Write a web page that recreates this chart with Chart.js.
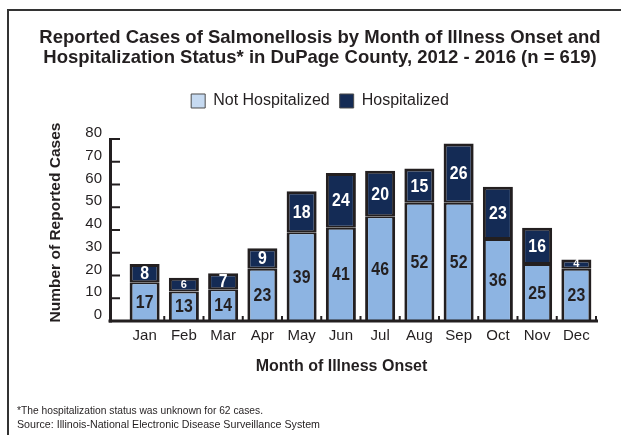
<!DOCTYPE html>
<html>
<head>
<meta charset="utf-8">
<script src="https://cdn.jsdelivr.net/npm/chart.js@4.4.0/dist/chart.umd.min.js"></script>
<style>
html,body{margin:0;padding:0;overflow:hidden;background:#fff;width:621px;height:435px}
#wrap{position:absolute;left:0;top:0;width:640px;height:435px}
canvas{display:block}
</style>
</head>
<body>
<div id="wrap"><canvas id="c" width="640" height="435"></canvas></div>
<script>
// ---- data ----
const months = ['Jan','Feb','Mar','Apr','May','Jun','Jul','Aug','Sep','Oct','Nov','Dec'];
const notHospitalized = [17,13,14,23,39,41,46,52,52,36,25,23];
const hospitalized    = [8,6,7,9,18,24,20,15,26,23,16,4];
const yTicks = [0,10,20,30,40,50,60,70,80];
const seriesNames = ['Not Hospitalized','Hospitalized'];
const titleLines = ['Reported Cases of Salmonellosis by Month of Illness Onset and',
                    'Hospitalization Status* in DuPage County, 2012 - 2016 (n = 619)'];
const yTitle = 'Number of Reported Cases';
const xTitle = 'Month of Illness Onset';
const footnotes = ['*The hospitalization status was unknown for 62 cases.',
                   'Source: Illinois-National Electronic Disease Surveillance System'];

// ---- style ----
const FONT = "'Liberation Sans', Arial, Helvetica, sans-serif";
const INK = '#231f20';
const barFills = ['#8db4e2', '#142b55'];
const legendFills = ['#c6daf1', '#142b55'];
const HEADER_SHIFT = 20;

Chart.defaults.font.family = FONT;
Chart.defaults.color = INK;

function line(ctx,x1,y1,x2,y2){ctx.beginPath();ctx.moveTo(x1,y1);ctx.lineTo(x2,y2);ctx.stroke();}

const framePlugin = {
  id:'frame',
  beforeDraw(chart){
    const ctx = chart.ctx;
    ctx.save();
    ctx.fillStyle = '#fff';
    ctx.fillRect(0,0,chart.width,chart.height);
    ctx.strokeStyle = '#333';
    ctx.lineWidth = 2;
    ctx.strokeRect(8,10,chart.width,chart.height);
    ctx.restore();
  },
  afterLayout(chart){
    [chart.titleBlock, chart.legend].forEach(b=>{
      if(!b) return;
      b.left = 0; b.right = chart.width; b.width = chart.width;
      b.top -= HEADER_SHIFT; b.bottom -= HEADER_SHIFT;
    });
  }
};

const axesPlugin = {
  id:'axesDraw',
  afterDatasetsDraw(chart){
    const ctx = chart.ctx, a = chart.chartArea, xs = chart.scales.x, ys = chart.scales.y;
    ctx.save();
    ctx.strokeStyle = INK;
    const ax = a.left - 14.5;
    ctx.lineWidth = 3;
    line(ctx, ax, ys.getPixelForValue(yTicks[yTicks.length-1]) - 1, ax, a.bottom + 1.5);
    ctx.lineWidth = 2;
    yTicks.forEach(v=>{ const y = ys.getPixelForValue(v); line(ctx, ax, y, a.left - 5, y); });
    ctx.lineWidth = 3;
    line(ctx, ax - 2, a.bottom, a.right + 2, a.bottom);
    ctx.lineWidth = 2;
    const n = months.length;
    for(let i=0;i<n;i++){
      const bx = i < n-1 ? (xs.getPixelForValue(i) + xs.getPixelForValue(i+1))/2 : a.right;
      line(ctx, bx, a.bottom - 5, bx, a.bottom);
    }
    ctx.restore();

    // value labels
    chart.data.datasets.forEach((ds,di)=>{
      const meta = chart.getDatasetMeta(di);
      meta.data.forEach((bar,i)=>{
        const v = ds.data[i];
        const h = Math.abs(bar.base - bar.y);
        const small = h < 15;
        ctx.save();
        ctx.fillStyle = di === 0 ? INK : '#ffffff';
        ctx.font = 'bold ' + (small ? 11 : 18) + 'px ' + FONT;
        ctx.textAlign = 'center';
        ctx.textBaseline = 'middle';
        ctx.translate(bar.x, (bar.y + bar.base)/2 + (small ? 0 : 1));
        ctx.scale(small ? 1 : 0.88, 1);
        ctx.fillText(String(v), 0, 0);
        ctx.restore();
      });
    });
  },
  afterDraw(chart){
    const ctx = chart.ctx;
    ctx.save();
    ctx.fillStyle = INK;
    ctx.textAlign = 'center';
    ctx.textBaseline = 'middle';
    // y title
    ctx.save();
    ctx.translate(56, 222.5);
    ctx.rotate(-Math.PI/2);
    ctx.font = 'bold 15.5px ' + FONT;
    ctx.fillText(yTitle, 0, 0);
    ctx.restore();
    // x title
    ctx.font = 'bold 16px ' + FONT;
    ctx.fillText(xTitle, 341.5, 366.5);
    // footnotes
    ctx.textAlign = 'left';
    ctx.font = '11px ' + FONT;
    const targets = [246, 303];
    const ys = [411, 425];
    footnotes.forEach((t,i)=>{
      const w = ctx.measureText(t).width;
      ctx.save();
      ctx.translate(17, ys[i]);
      ctx.scale(targets[i]/w, 1);
      ctx.fillText(t, 0, 0);
      ctx.restore();
    });
    ctx.restore();
  }
};

new Chart(document.getElementById('c'), {
  type:'bar',
  data:{
    labels: months,
    datasets:[
      {label: seriesNames[0], data: notHospitalized, backgroundColor: barFills[0], borderColor: INK,
       borderWidth:{left:3,right:3,top:2,bottom:0}, borderSkipped:false, barPercentage:0.765, categoryPercentage:1},
      {label: seriesNames[1], data: hospitalized, backgroundColor: barFills[1], borderColor: INK,
       borderWidth:{left:3,right:3,top:3,bottom:2}, borderSkipped:false, barPercentage:0.765, categoryPercentage:1}
    ]
  },
  options:{
    responsive:false,
    animation:false,
    devicePixelRatio:1,
    layout:{padding:{top:20 + HEADER_SHIFT,left:0,right:44,bottom:84}},
    plugins:{
      title:{display:true, text:titleLines, color:INK,
             font:{size:18.5, weight:'bold', lineHeight:1.054}, padding:{top:8.25,bottom:15.75}},
      legend:{display:true, position:'top',
        labels:{boxWidth:14, boxHeight:14, padding:10, font:{size:16}, color:INK,
          generateLabels: chart => chart.data.datasets.map((ds,i)=>({
            text: ds.label, fillStyle: legendFills[i], strokeStyle:'#4a4a4a', lineWidth:1,
            hidden:false, datasetIndex:i, fontColor: INK
          }))}},
      tooltip:{enabled:false}
    },
    scales:{
      x:{stacked:true, offset:true,
         grid:{display:false, drawTicks:false}, border:{display:false},
         ticks:{padding:6, font:{size:15}, color:INK, maxRotation:0, autoSkip:false}},
      y:{stacked:true, min:0, max:80,
         grid:{display:false, drawTicks:false}, border:{display:false},
         afterBuildTicks: s => { s.ticks = yTicks.map(v=>({value:v})); },
         afterFit: s => { s.width = 125; },
         ticks:{padding:23, labelOffset:-6, font:{size:15}, color:INK}}
    }
  },
  plugins:[framePlugin, axesPlugin]
});
</script>
</body>
</html>
